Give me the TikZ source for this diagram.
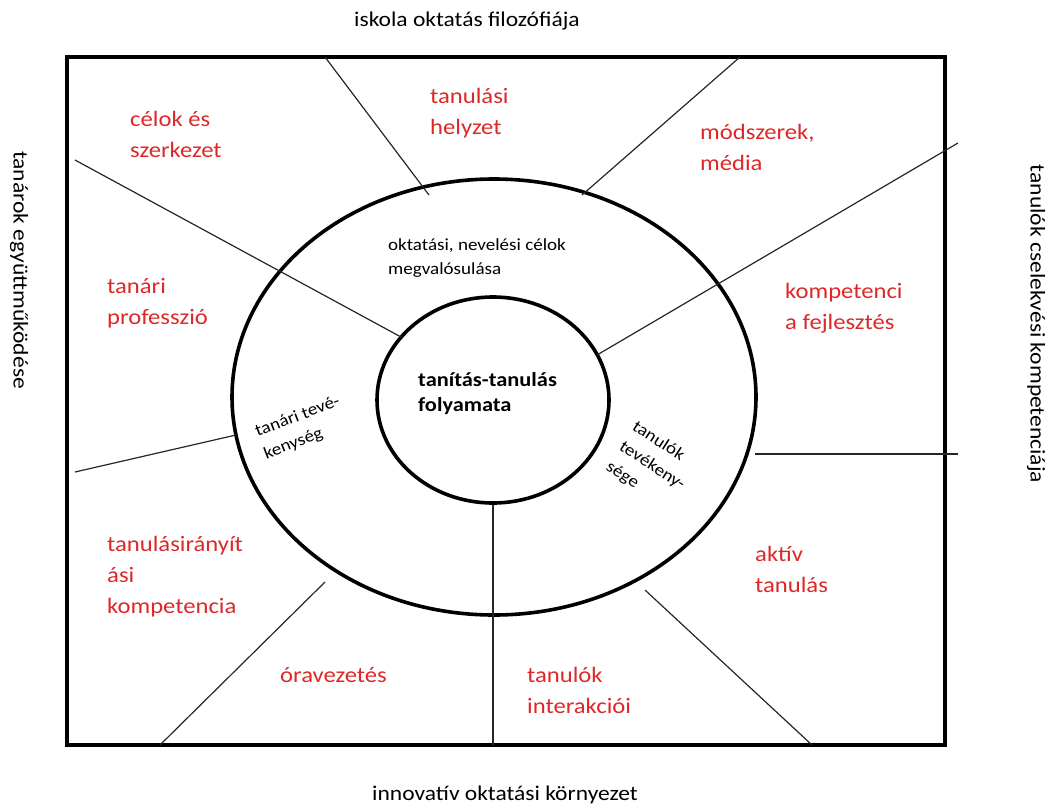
\documentclass[tikz,border=0pt]{standalone}
\usepackage{fontspec}
\setmainfont{Carlito}[FakeStretch=1.12]
\usetikzlibrary{shapes.geometric}
\definecolor{labelred}{RGB}{222,40,40}
\tikzset{
  frame/.style={line width=3.6pt},
  ring/.style={draw, ellipse, line width=3.6pt, inner sep=0pt},
  divider/.style={line width=1.2pt, draw=black!85},
  area/.style={text=labelred, align=left, anchor=west, inner sep=0pt,
    font=\fontsize{22}{31}\selectfont},
  inlabel/.style={align=left, inner sep=0pt,
    font=\fontsize{17}{24}\selectfont},
  sidelabel/.style={inner sep=0pt, font=\fontsize{21}{25}\selectfont}
}
\begin{document}
\begin{tikzpicture}[x=1pt,y=-1pt]
\useasboundingbox (0,0) rectangle (1051,809);

% frame
\draw[frame] (67,57) rectangle (945,745);

% rings
\node[ring, minimum width=524pt, minimum height=436pt] (outer) at (494,397) {};
\node[ring, minimum width=232pt, minimum height=206pt] (inner) at (493,400) {};

% sector dividers
\coordinate (t1) at (325,57);   \coordinate (e1) at (429,195);
\coordinate (t2) at (740,57);   \coordinate (e2) at (582,195);
\coordinate (t3) at (75,160);   \coordinate (e3) at (401,337);
\coordinate (t4) at (958,143);  \coordinate (e4) at (597,355);
\coordinate (t5) at (75,472);   \coordinate (e5) at (236,435);
\coordinate (t6) at (160,745);  \coordinate (e6) at (325,582);
\coordinate (t7) at (812,745);  \coordinate (e7) at (645,590);
\coordinate (t8) at (958,454);  \coordinate (e8) at (755,454);
\coordinate (t9) at (493,745);
\draw[divider] (t1) -- (e1);
\draw[divider] (t2) -- (e2);
\draw[divider] (t3) -- (e3);
\draw[divider] (t4) -- (e4);
\draw[divider] (t5) -- (e5);
\draw[divider] (t6) -- (e6);
\draw[divider] (t7) -- (e7);
\draw[divider] (t8) -- (e8);
\draw[divider] (inner.south) -- (inner.south |- t9);

% outer labels
\node[sidelabel] (top) at (467,21) {iskola oktatás filozófiája};
\node[sidelabel] (bottom) at (505,795) {innovatív oktatási környezet};
\node[sidelabel, rotate=-90] (left) at (19,270) {tanárok együttműködése};
\node[sidelabel, rotate=-90] (right) at (1036,324) {tanulók cselekvési kompetenciája};

% sector labels
\node[area] (a1) at (130,134) {célok és\\szerkezet};
\node[area] (a2) at (430,113) {tanulási\\helyzet};
\node[area] (a3) at (700,147) {módszerek,\\média};
\node[area] (a4) at (107,303) {tanári\\professzió};
\node[area] (a5) at (785,308) {kompetenci\\a fejlesztés};
\node[area] (a6) at (107,577) {tanulásirányít\\ási\\kompetencia};
\node[area] (a7) at (755,569) {aktív\\tanulás};
\node[area] (a8) at (280,675) {óravezetés};
\node[area] (a9) at (527,690) {tanulók\\interakciói};

% ring labels
\node[inlabel, anchor=west] (goals) at (388,258) {oktatási, nevelési célok\\megvalósulása};
\node[inlabel, rotate=21] (teacher) at (302,428) {tanári tevé-\\kenység};
\node[inlabel, rotate=-33] (pupils) at (652,466) {tanulók\\tevékeny-\\sége};
\node[inlabel, anchor=west, font=\fontsize{20}{25}\selectfont\bfseries] (core) at (418,394) {tanítás-tanulás\\folyamata};
\end{tikzpicture}
\end{document}
